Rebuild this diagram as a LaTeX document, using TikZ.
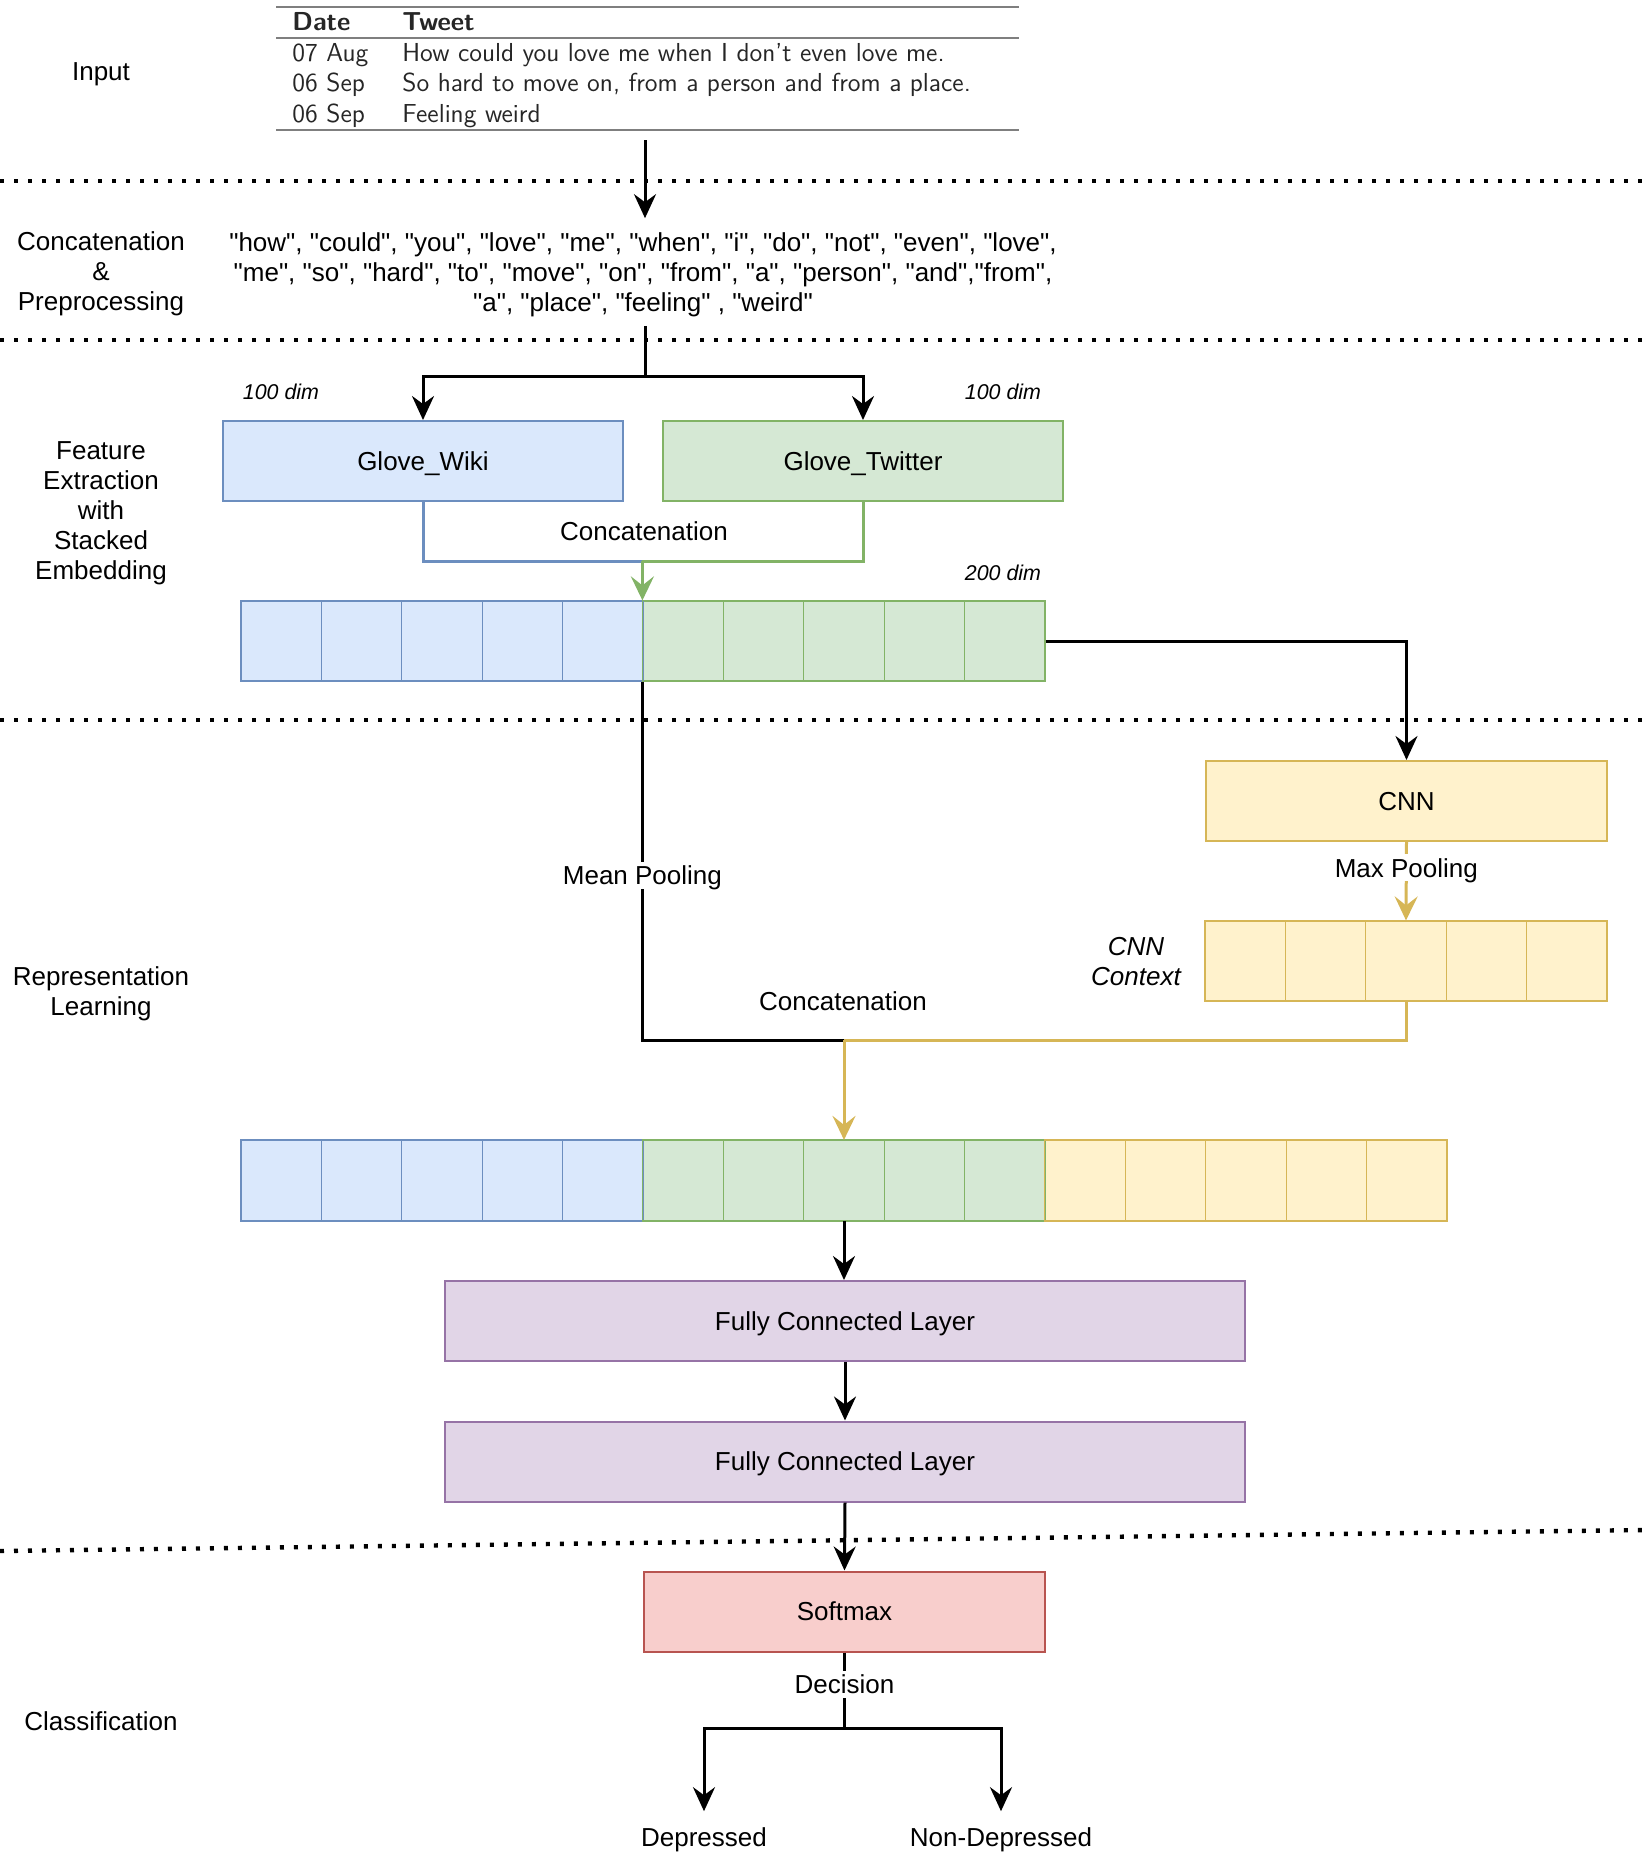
\documentclass[tikz,border=0pt]{standalone}
\usepackage{fontspec}
\setmainfont{Liberation Sans}[Ligatures=TeXOff]
\usetikzlibrary{arrows.meta}
\definecolor{bfill}{HTML}{DAE8FC}\definecolor{bdraw}{HTML}{6C8EBF}
\definecolor{gfill}{HTML}{D5E8D4}\definecolor{gdraw}{HTML}{82B366}
\definecolor{yfill}{HTML}{FFF2CC}\definecolor{ydraw}{HTML}{D6B656}
\definecolor{pfill}{HTML}{E1D5E7}\definecolor{pdraw}{HTML}{9673A6}
\definecolor{rfill}{HTML}{F8CECC}\definecolor{rdraw}{HTML}{B85450}
\definecolor{rulegray}{HTML}{7F7F7F}
\begin{document}
\begin{tikzpicture}[x=0.5pt,y=-0.5pt,
  font=\fontsize{13}{15}\selectfont,
  every node/.append style={text depth=0pt},
  box/.style={draw, line width=1pt, minimum height=40pt, inner sep=0pt},
  cellbox/.style={draw, line width=0.6pt, minimum width=40.2pt, minimum height=40pt, inner sep=0pt},
  bcell/.style={cellbox, fill=bfill, draw=bdraw},
  gcell/.style={cellbox, fill=gfill, draw=gdraw},
  ycell/.style={cellbox, fill=yfill, draw=ydraw},
  line/.style={line width=1.5pt},
  conn/.style={line width=1.5pt, -{Stealth[length=12pt,width=11pt,inset=4pt]}},
  cconn/.style={line width=1.5pt, -{Stealth[length=12pt,width=11.5pt,inset=4.5pt]}},
  sepline/.style={line width=2.2pt, dash pattern=on 2pt off 5pt},
  tabtxt/.style={font=\sffamily\fontsize{13}{15}\selectfont, text=black!85, anchor=base west, inner sep=0pt},
  tabhead/.style={font=\sffamily\bfseries\fontsize{13}{15}\selectfont, text=black!85, anchor=base west, inner sep=0pt},
  dimlbl/.style={font=\itshape\fontsize{10.7}{13}\selectfont},
  lbl/.style={fill=white, inner sep=2pt}
]
\useasboundingbox (0,0) rectangle (1646,1870);

% separators
\draw[sepline] (0,181) -- (1646,181);
\draw[sepline] (0,340) -- (1646,340);
\draw[sepline] (0,720) -- (1646,720);
\draw[sepline] (0,1551) -- (1646,1530);

% section labels
\node[align=center] (lin) at (101,72) {Input};
\node[align=center] (lcp) at (101,271) {Concatenation\\\&\\Preprocessing};
\node[align=center] (lfe) at (101,511) {Feature\\Extraction\\with\\Stacked\\Embedding};
\node[align=center] (lrl) at (101,991) {Representation\\Learning};
\node (lcl) at (101,1721) {Classification};

% table
\draw[rulegray, line width=1.1pt] (276,7) -- (1019,7);
\draw[rulegray, line width=0.8pt] (276,38) -- (1019,38);
\draw[rulegray, line width=1.1pt] (276,130) -- (1019,130);
\node[tabhead] (hdate) at (292,30) {Date};
\node[tabhead] (htweet) at (402,30) {Tweet};
\node[tabtxt] (d1) at (292,61) {07 Aug};
\node[tabtxt] (t1) at (402,61) {How could you love me when I don't even love me.};
\node[tabtxt] (d2) at (292,91) {06 Sep};
\node[tabtxt] (t2) at (402,91) {So hard to move on, from a person and from a place.};
\node[tabtxt] (d3) at (292,122) {06 Sep};
\node[tabtxt] (t3) at (402,122) {Feeling weird};
\coordinate (tabout) at (645,140);

% words
\node[align=center, inner xsep=2pt, inner ysep=7pt] (words) at (643,272)
 {"how", "could", "you", "love", "me", "when", "i", "do", "not", "even", "love",\\
  "me", "so", "hard", "to", "move", "on", "from", "a", "person", "and","from",\\
  "a", "place", "feeling" , "weird"};
\draw[conn] (tabout) -- (tabout |- words.north);

% embeddings
\node[box, fill=bfill, draw=bdraw, minimum width=200pt] (wiki) at (423,461) {Glove\_Wiki};
\node[box, fill=gfill, draw=gdraw, minimum width=200pt] (twit) at (863,461) {Glove\_Twitter};
\node[dimlbl] (d100a) at (281,392) {100 dim};
\node[dimlbl] (d100b) at (1003,392) {100 dim};
\node[dimlbl] (d200) at (1003,573) {200 dim};
\coordinate (split1) at (645,376);
\draw[line] (words.south -| split1) -- (split1);
\draw[conn] (split1) -| (wiki.north);
\draw[conn] (split1) -| (twit.north);

% vector 1
\foreach \i in {0,...,4} \node[bcell] (v1b\i) at ({281.2+80.4*\i},641) {};
\foreach \i in {0,...,4} \node[gcell] (v1g\i) at ({683.2+80.4*\i},641) {};
\draw[bdraw, line width=0.8pt] (v1b0.north west) rectangle (v1b4.south east);
\draw[gdraw, line width=0.8pt] (v1g0.north west) rectangle (v1g4.south east);

\node (concat1) at (644,531) {Concatenation};
\coordinate (join1) at (v1g0.north west |- 0,561);
\draw[line, bdraw] (wiki.south) |- (join1);
\draw[line, gdraw] (twit.south) |- (join1);
\draw[cconn, gdraw] (join1) -- (v1g0.north west);

% CNN
\node[box, fill=yfill, draw=ydraw, minimum width=200.5pt] (cnn) at (1406.5,801) {CNN};
\draw[conn] (v1g4.east) -| (cnn.north);
\foreach \i in {0,...,4} \node[ycell] (ctx\i) at ({1245.2+80.4*\i},961) {};
\draw[ydraw, line width=0.8pt] (ctx0.north west) rectangle (ctx4.south east);
\draw[cconn, ydraw] (cnn.south) -- node[lbl, pos=0.33, text=black] (maxp) {Max Pooling} (ctx2.north);
\node[align=center, font=\itshape\fontsize{13}{15}\selectfont] (ctxl) at (1136,961) {CNN\\Context};

% vector 2
\foreach \i in {0,...,4} \node[bcell] (v2b\i) at ({281.2+80.4*\i},1180.5) {};
\foreach \i in {0,...,4} \node[gcell] (v2g\i) at ({683.2+80.4*\i},1180.5) {};
\foreach \i in {0,...,4} \node[ycell] (v2y\i) at ({1085.2+80.4*\i},1180.5) {};
\draw[bdraw, line width=0.8pt] (v2b0.north west) rectangle (v2b4.south east);
\draw[gdraw, line width=0.8pt] (v2g0.north west) rectangle (v2g4.south east);
\draw[ydraw, line width=0.8pt] (v2y0.north west) rectangle (v2y4.south east);

\coordinate (join2) at (v2g2.north |- 0,1040);
\coordinate (mpbend) at (v1g0.south west |- 0,1040);
\draw[line] (v1g0.south west) -- node[lbl, pos=0.54] (meanp) {Mean Pooling} (mpbend) -- (join2);
\draw[line, ydraw] (ctx2.south) |- (join2);
\draw[cconn, ydraw] (join2) -- (v2g2.north);
\node (concat2) at (843,1001) {Concatenation};

% dense layers
\node[box, fill=pfill, draw=pdraw, minimum width=400pt] (fc1) at (845,1321) {Fully Connected Layer};
\node[box, fill=pfill, draw=pdraw, minimum width=400pt] (fc2) at (845,1461.5) {Fully Connected Layer};
\node[box, fill=rfill, draw=rdraw, minimum width=200.5pt] (soft) at (844.5,1611.5) {Softmax};
\draw[conn] (v2g2.south) -- (v2g2.south |- fc1.north);
\draw[conn] (fc1.south) -- (fc2.north);
\draw[conn] (fc2.south) -- (soft.north);

% decision
\coordinate (dec) at (844.5,1728);
\draw[line] (soft.south) -- node[lbl, pos=0.42] (decl) {Decision} (dec);
\node[inner ysep=8pt] (dep) at (704,1837) {Depressed};
\node[inner ysep=8pt] (ndep) at (1001,1837) {Non-Depressed};
\draw[conn] (dec) -| (dep.north);
\draw[conn] (dec) -| (ndep.north);
\end{tikzpicture}
\end{document}
